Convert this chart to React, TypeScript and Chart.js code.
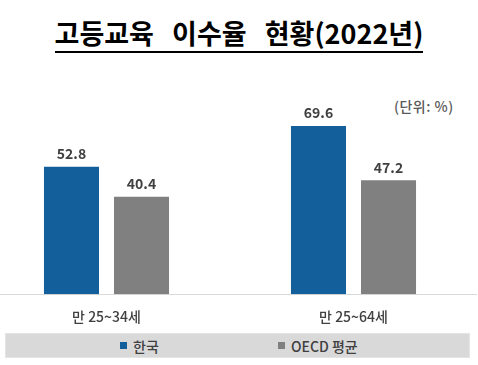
import React, { useEffect, useRef } from 'react';
import { Chart, registerables } from 'chart.js';

Chart.register(...registerables);

const categories = ['만 25~34세', '만 25~64세'];
const seriesNames = ['한국', 'OECD 평균'];
const koreaValues = [52.8, 69.6];
const oecdValues = [40.4, 47.2];
const seriesColors = ['#135f9c', '#808080'];
const yMax = 80;

const FONT = '"Noto Sans CJK KR", "Noto Sans", sans-serif';

const valueLabels = {
  id: 'valueLabels',
  afterDatasetsDraw(chart: any) {
    const { ctx } = chart;
    ctx.save();
    ctx.font = `bold 14px ${FONT}`;
    ctx.fillStyle = '#404040';
    ctx.textAlign = 'center';
    ctx.textBaseline = 'middle';
    chart.data.datasets.forEach((ds: any, i: number) => {
      chart.getDatasetMeta(i).data.forEach((bar: any, j: number) => {
        ctx.fillText(Number(ds.data[j]).toFixed(1), bar.x, bar.y - 13);
      });
    });
    ctx.restore();
  },
};

export default function App() {
  const canvasRef = useRef<HTMLCanvasElement | null>(null);

  useEffect(() => {
    if (!canvasRef.current) return;
    const chart = new Chart(canvasRef.current, {
      type: 'bar',
      data: {
        labels: categories,
        datasets: [
          {
            label: seriesNames[0],
            data: koreaValues,
            backgroundColor: seriesColors[0],
            categoryPercentage: 0.567,
            barPercentage: 0.786,
          },
          {
            label: seriesNames[1],
            data: oecdValues,
            backgroundColor: seriesColors[1],
            categoryPercentage: 0.567,
            barPercentage: 0.786,
          },
        ],
      },
      options: {
        responsive: false,
        animation: false,
        layout: { padding: { top: 41, bottom: 6, left: 0, right: 0 } },
        plugins: {
          legend: { display: false },
          title: { display: false },
          tooltip: { enabled: false },
        },
        scales: {
          x: {
            grid: { display: false, drawTicks: false },
            border: { display: true, color: '#d9d9d9', width: 1 },
            ticks: {
              padding: 14,
              color: '#404040',
              font: { family: FONT, size: 14, weight: '500' },
            },
          },
          y: {
            display: false,
            min: 0,
            max: yMax,
          },
        },
      },
      plugins: [valueLabels],
    });
    return () => chart.destroy();
  }, []);

  return (
    <div
      style={{
        position: 'absolute',
        left: 0,
        top: 0,
        width: 478,
        height: 365,
        overflow: 'hidden',
        background: '#fff',
        fontFamily: FONT,
      }}
    >
      <div
        style={{
          position: 'absolute',
          left: 0,
          top: 15,
          width: 478,
          textAlign: 'center',
        }}
      >
        <span
          style={{
            display: 'inline-block',
            fontSize: 27,
            fontWeight: 700,
            wordSpacing: 12,
            lineHeight: '36px',
            color: '#000',
            borderBottom: '2px solid #000',
            letterSpacing: 0,
          }}
        >
          고등교육 이수율 현황(2022년)
        </span>
      </div>
      <div
        style={{
          position: 'absolute',
          left: 394,
          top: 96,
          fontSize: 14,
          fontWeight: 500,
          color: '#595959',
          lineHeight: '20px',
          letterSpacing: 0.5,
          whiteSpace: 'nowrap',
        }}
      >
        (단위: %)
      </div>
      <div style={{ position: 'absolute', left: -17, top: 60, width: 494, height: 285 }}>
        <canvas ref={canvasRef} width={494} height={285} style={{ display: 'block' }} />
      </div>
      <div
        style={{
          position: 'absolute',
          left: 5,
          top: 333,
          width: 463,
          height: 23,
          background: '#d9d9d9',
          border: '1px solid #e4e4e4',
        }}
      >
        {seriesNames.map((name, i) => (
          <div
            key={name}
            style={{
              position: 'absolute',
              left: i === 0 ? 114 : 272,
              top: 0,
              height: 23,
              display: 'flex',
              alignItems: 'center',
              whiteSpace: 'nowrap',
            }}
          >
            <span
              style={{
                display: 'inline-block',
                width: 7,
                height: 7,
                background: seriesColors[i],
                marginRight: 6,
              }}
            />
            <span style={{ fontSize: 14, fontWeight: 500, color: '#404040', lineHeight: '20px' }}>{name}</span>
          </div>
        ))}
      </div>
    </div>
  );
}
